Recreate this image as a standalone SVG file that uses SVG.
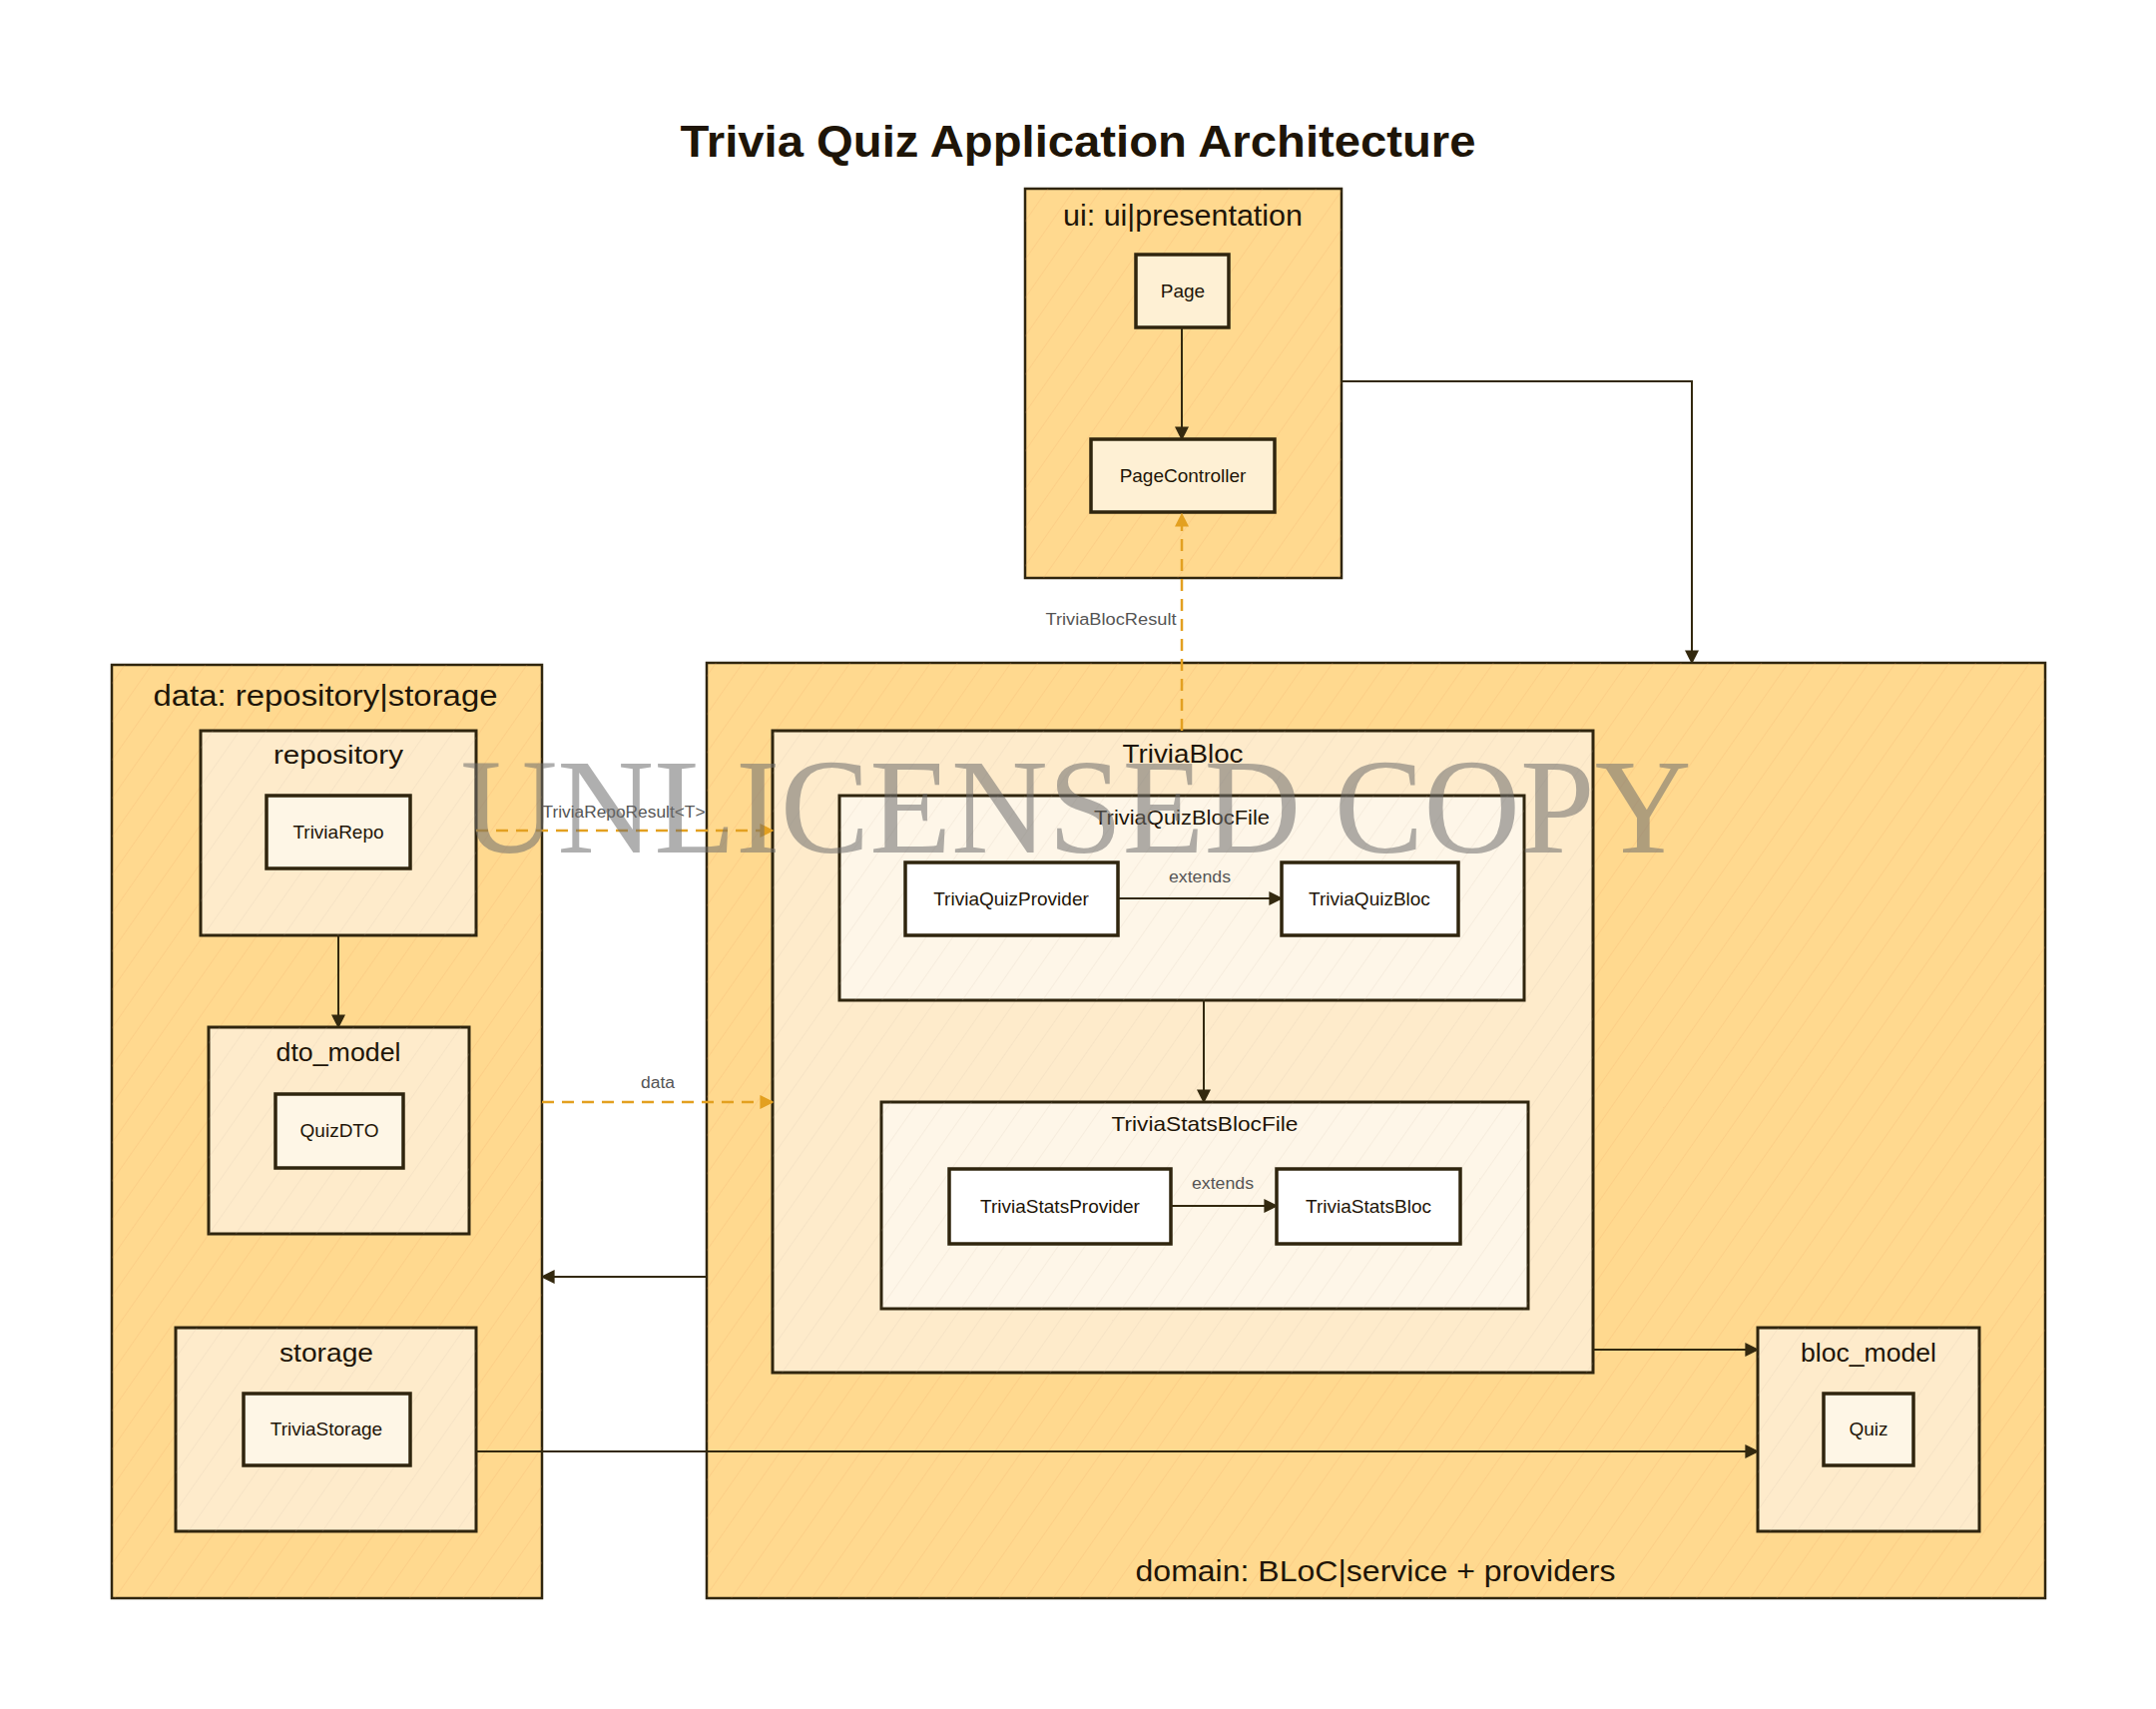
<svg xmlns="http://www.w3.org/2000/svg" width="2160" height="1712" viewBox="0 0 2160 1712">
<defs>
<style>
.t{font-family:"Liberation Sans","DejaVu Sans",sans-serif;fill:#1e1508;text-anchor:middle}
.title{font-size:44px;font-weight:bold}
.glabel{font-size:30px}
.slabel{font-size:26px}
.flabel{font-size:21px}
.nlabel{font-size:19px}
.elabel{font-family:"Liberation Sans","DejaVu Sans",sans-serif;font-size:16px;fill:#555;text-anchor:middle}
.outer{fill:#ffd98f;stroke:#2f250e;stroke-width:2.5}
.sub{fill:#feebcb;stroke:#2f250e;stroke-width:3}
.file{fill:#fef6e8;stroke:#2f250e;stroke-width:3}
.node{fill:#fef6e6;stroke:#2f250e;stroke-width:3.5}
.nodep{fill:#fef0d4;stroke:#2f250e;stroke-width:3.5}
.nodew{fill:#ffffff;stroke:#2f250e;stroke-width:3.5}
.e{fill:none;stroke:#33290f;stroke-width:2}
.d{fill:none;stroke:#e3a020;stroke-width:2.5;stroke-dasharray:12 8}
</style>
<pattern id="h1" patternUnits="userSpaceOnUse" width="22" height="22" patternTransform="rotate(35)">
<line x1="0" y1="0" x2="0" y2="22" stroke="#f0a060" stroke-width="1" opacity="0.35"/>
</pattern>
<pattern id="h2" patternUnits="userSpaceOnUse" width="22" height="22" patternTransform="rotate(35)">
<line x1="0" y1="0" x2="0" y2="22" stroke="#c8b8a0" stroke-width="1" opacity="0.3"/>
</pattern>
<marker id="ad" viewBox="0 0 10 10" refX="9" refY="5" markerWidth="14" markerHeight="14" orient="auto" markerUnits="userSpaceOnUse">
<path d="M0,0 L10,5 L0,10 z" fill="#33290f"/>
</marker>
<marker id="ao" viewBox="0 0 10 10" refX="9" refY="5" markerWidth="14" markerHeight="14" orient="auto" markerUnits="userSpaceOnUse">
<path d="M0,0 L10,5 L0,10 z" fill="#e3a020"/>
</marker>
</defs>
<rect width="2160" height="1712" fill="#ffffff"/>
<text class="t title" x="1080" y="157" textLength="797" lengthAdjust="spacingAndGlyphs">Trivia Quiz Application Architecture</text>

<g id="ui">
<rect class="outer" x="1027" y="189" width="317" height="390"/>
<rect x="1027" y="189" width="317" height="390" fill="url(#h1)"/>
<text class="t glabel" x="1185" y="226" textLength="240" lengthAdjust="spacingAndGlyphs">ui: ui|presentation</text>
</g>
<g id="page">
<rect class="nodep" x="1138" y="255" width="93" height="73"/>
<text class="t nlabel" x="1185" y="298">Page</text>
</g>
<g id="pagecontroller">
<rect class="nodep" x="1093" y="440" width="184" height="73"/>
<text class="t nlabel" x="1185" y="483">PageController</text>
</g>

<g id="data">
<rect class="outer" x="112" y="666" width="431" height="935"/>
<rect x="112" y="666" width="431" height="935" fill="url(#h1)"/>
<text class="t glabel" x="326" y="707" textLength="345" lengthAdjust="spacingAndGlyphs">data: repository|storage</text>
</g>
<g id="repository">
<rect class="sub" x="201" y="732" width="276" height="205"/>
<rect x="201" y="732" width="276" height="205" fill="url(#h2)"/>
<text class="t slabel" x="339" y="765" textLength="130" lengthAdjust="spacingAndGlyphs">repository</text>
</g>
<g id="triviarepo">
<rect class="node" x="267" y="797" width="144" height="73"/>
<text class="t nlabel" x="339" y="840">TriviaRepo</text>
</g>
<g id="dto_model">
<rect class="sub" x="209" y="1029" width="261" height="207"/>
<rect x="209" y="1029" width="261" height="207" fill="url(#h2)"/>
<text class="t slabel" x="339" y="1063" textLength="125" lengthAdjust="spacingAndGlyphs">dto_model</text>
</g>
<g id="quizdto">
<rect class="node" x="276" y="1096" width="128" height="74"/>
<text class="t nlabel" x="340" y="1139">QuizDTO</text>
</g>
<g id="storage">
<rect class="sub" x="176" y="1330" width="301" height="204"/>
<rect x="176" y="1330" width="301" height="204" fill="url(#h2)"/>
<text class="t slabel" x="327" y="1364" textLength="94" lengthAdjust="spacingAndGlyphs">storage</text>
</g>
<g id="triviastorage">
<rect class="node" x="244" y="1396" width="167" height="72"/>
<text class="t nlabel" x="327" y="1438">TriviaStorage</text>
</g>

<g id="domain">
<rect class="outer" x="708" y="664" width="1341" height="937"/>
<rect x="708" y="664" width="1341" height="937" fill="url(#h1)"/>
<text class="t glabel" x="1378" y="1584" textLength="481" lengthAdjust="spacingAndGlyphs">domain: BLoC|service + providers</text>
</g>
<g id="triviabloc">
<rect class="sub" x="774" y="732" width="822" height="643"/>
<rect x="774" y="732" width="822" height="643" fill="url(#h2)"/>
<text class="t slabel" x="1185" y="764" textLength="121" lengthAdjust="spacingAndGlyphs">TriviaBloc</text>
</g>
<g id="triviaquizblocfile">
<rect class="file" x="841" y="797" width="686" height="205"/>
<rect x="841" y="797" width="686" height="205" fill="url(#h2)"/>
<text class="t flabel" x="1184" y="826" textLength="176" lengthAdjust="spacingAndGlyphs">TriviaQuizBlocFile</text>
</g>
<g id="triviaquizprovider">
<rect class="nodew" x="907" y="864" width="213" height="73"/>
<text class="t nlabel" x="1013" y="907">TriviaQuizProvider</text>
</g>
<g id="triviaquizbloc">
<rect class="nodew" x="1284" y="864" width="177" height="73"/>
<text class="t nlabel" x="1372" y="907">TriviaQuizBloc</text>
</g>
<g id="triviastatsblocfile">
<rect class="file" x="883" y="1104" width="648" height="207"/>
<rect x="883" y="1104" width="648" height="207" fill="url(#h2)"/>
<text class="t flabel" x="1207" y="1133" textLength="187" lengthAdjust="spacingAndGlyphs">TriviaStatsBlocFile</text>
</g>
<g id="triviastatsprovider">
<rect class="nodew" x="951" y="1171" width="222" height="75"/>
<text class="t nlabel" x="1062" y="1215">TriviaStatsProvider</text>
</g>
<g id="triviastatsbloc">
<rect class="nodew" x="1279" y="1171" width="184" height="75"/>
<text class="t nlabel" x="1371" y="1215">TriviaStatsBloc</text>
</g>
<g id="bloc_model">
<rect class="sub" x="1761" y="1330" width="222" height="204"/>
<rect x="1761" y="1330" width="222" height="204" fill="url(#h2)"/>
<text class="t slabel" x="1872" y="1364" textLength="136" lengthAdjust="spacingAndGlyphs">bloc_model</text>
</g>
<g id="quiz">
<rect class="node" x="1827" y="1396" width="90" height="72"/>
<text class="t nlabel" x="1872" y="1438">Quiz</text>
</g>

<g id="connectors">
<path class="e" d="M1184,328 V440" marker-end="url(#ad)"/>
<path class="d" d="M1184,732 V515" marker-end="url(#ao)"/>
<text class="elabel" x="1113" y="626" textLength="131" lengthAdjust="spacingAndGlyphs">TriviaBlocResult</text>
<path class="e" d="M1344,382 H1695 V664" marker-end="url(#ad)"/>
<path class="e" d="M339,937 V1029" marker-end="url(#ad)"/>
<path class="d" d="M477,832 H774" marker-end="url(#ao)"/>
<text class="elabel" x="625" y="819" textLength="163" lengthAdjust="spacingAndGlyphs">TriviaRepoResult&lt;T&gt;</text>
<path class="d" d="M543,1104 H774" marker-end="url(#ao)"/>
<text class="elabel" x="659" y="1090" textLength="34" lengthAdjust="spacingAndGlyphs">data</text>
<path class="e" d="M1120,900 H1284" marker-end="url(#ad)"/>
<text class="elabel" x="1202" y="884" textLength="62" lengthAdjust="spacingAndGlyphs">extends</text>
<path class="e" d="M1206,1002 V1104" marker-end="url(#ad)"/>
<path class="e" d="M1173,1208 H1279" marker-end="url(#ad)"/>
<text class="elabel" x="1225" y="1191" textLength="62" lengthAdjust="spacingAndGlyphs">extends</text>
<path class="e" d="M708,1279 H543" marker-end="url(#ad)"/>
<path class="e" d="M1596,1352 H1761" marker-end="url(#ad)"/>
<path class="e" d="M477,1454 H1761" marker-end="url(#ad)"/>
</g>

<text x="1078" y="854" text-anchor="middle" font-family="Liberation Serif, serif" font-size="136" fill="#6e6e6e" fill-opacity="0.55" textLength="1233" lengthAdjust="spacingAndGlyphs">UNLICENSED COPY</text>
</svg>
